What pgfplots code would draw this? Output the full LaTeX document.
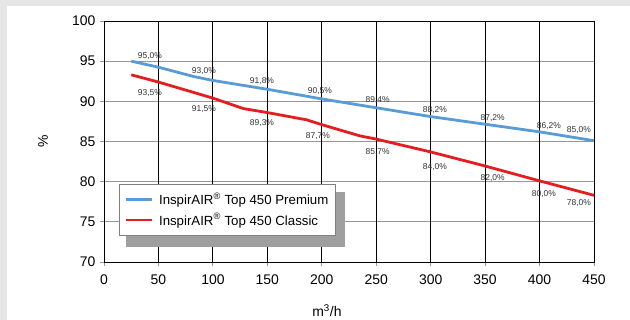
\documentclass[border=0pt]{standalone}
\usepackage{pgfplots}
\pgfplotsset{compat=1.18}
\usepackage{fontspec}
\setmainfont{Liberation Sans}
\definecolor{cblue}{RGB}{88,155,215}
\definecolor{cred}{RGB}{228,30,32}
\definecolor{bggray}{RGB}{230,230,230}
\definecolor{lbl}{RGB}{50,50,50}
\definecolor{gridgray}{RGB}{150,150,150}
\pgfplotsset{legend image code/.code={\draw[#1] (0bp,0bp) -- (26bp,0bp);}}
\tikzset{dl/.style={font=\fontsize{8.5}{10}\selectfont, text=lbl, inner sep=0pt}}
\begin{document}
\begin{tikzpicture}
\fill[bggray] (-104bp,-58bp) rectangle (-97bp,262bp);
\fill[bggray] (-104bp,256bp) rectangle (526bp,262bp);
\begin{axis}[
  scale only axis, width=490bp, height=241bp,
  xmin=0, xmax=450, ymin=70, ymax=100,
  xtick={0,50,...,450}, ytick={70,75,...,100},
  xtick pos=bottom, ytick pos=left, tick align=outside,
  major tick length=3bp,
  tick style={gray, line width=0.8pt},
  axis line style={black, line width=1pt},
  /pgf/number format/assume math mode=true,
  tick label style={font=\fontsize{14}{16}\selectfont},
  xticklabel style={yshift=-6bp},
  yticklabel style={xshift=-2bp}]
\addplot[draw=none] coordinates {(0,70)};
\end{axis}
\begin{axis}[
  scale only axis, width=490bp, height=241bp,
  xmin=0, xmax=450, ymin=70, ymax=100,
  hide axis, clip=false,
  legend cell align=left,
  legend style={at={(axis description cs:0.0306,0.3237)}, anchor=north west,
    draw=gray, fill=white, line width=0.6pt,
    font=\fontsize{13.3}{15}\selectfont,
    inner xsep=5bp, inner ysep=7bp, row sep=3bp,
    /tikz/every odd column/.append style={column sep=4bp}},
]
\pgfplotsinvokeforeach{75,80,85,90,95}{
  \draw[gridgray, line width=1.2pt] (axis cs:0,#1) -- (axis cs:450,#1);}
\pgfplotsinvokeforeach{70,75,80,85,90,95,100}{
  \draw[gridgray, line width=1pt] (axis cs:0,#1) -- ++(-3.5bp,0bp);}
\pgfplotsinvokeforeach{50,100,150,200,250,300,350,400}{
  \draw[black, line width=0.9pt] (axis cs:#1,70) -- (axis cs:#1,100);}
\pgfplotsinvokeforeach{0,50,100,150,200,250,300,350,400,450}{
  \draw[gridgray, line width=1pt] (axis cs:#1,70) -- ++(0bp,-3.5bp);}
\draw[black, line width=1pt] (axis cs:0,70) rectangle (axis cs:450,100);
\fill[gray!75] (axis cs:20.2,78.71) rectangle (axis cs:221.3,71.87);
\addplot[cblue, line width=2.8pt] coordinates {
(25,95.0)(50,94.25)(82,93.1)(100,92.6)(150,91.5)(200,90.3)(250,89.2)(300,88.1)(350,87.15)(400,86.2)(450,85.1)};
\addlegendentry{InspirAIR\textsuperscript{®} Top 450 Premium}
\addplot[cred, line width=2.8pt] coordinates {
(25,93.3)(50,92.4)(100,90.4)(128,89.1)(150,88.6)(186,87.7)(200,87.1)(235,85.7)(250,85.3)(300,83.7)(350,81.95)(400,80.1)(450,78.3)};
\addlegendentry{InspirAIR\textsuperscript{®} Top 450 Classic}
\node[dl] at (axis cs:42.2,95.68) {95,0\%};
\node[dl] at (axis cs:91.8,93.77) {93,0\%};
\node[dl] at (axis cs:145.1,92.57) {91,8\%};
\node[dl] at (axis cs:198.3,91.28) {90,5\%};
\node[dl] at (axis cs:251.3,90.16) {89,4\%};
\node[dl] at (axis cs:303.9,88.92) {88,2\%};
\node[dl] at (axis cs:356.9,87.95) {87,2\%};
\node[dl] at (axis cs:408.6,86.95) {86,2\%};
\node[dl] at (axis cs:436.2,86.43) {85,0\%};
\node[dl] at (axis cs:42.2,91.07) {93,5\%};
\node[dl] at (axis cs:91.8,89.04) {91,5\%};
\node[dl] at (axis cs:145.1,87.33) {89,3\%};
\node[dl] at (axis cs:196.5,85.68) {87,7\%};
\node[dl] at (axis cs:251.3,83.72) {85,7\%};
\node[dl] at (axis cs:303.9,81.86) {84,0\%};
\node[dl] at (axis cs:356.9,80.45) {82,0\%};
\node[dl] at (axis cs:404,78.46) {80,0\%};
\node[dl] at (axis cs:436.2,77.37) {78,0\%};
\node[font=\fontsize{14}{16}\selectfont, inner sep=0pt, anchor=base] at (axis description cs:0.455,-0.228) {m\textsuperscript{3}/h};
\node[font=\fontsize{14}{16}\selectfont, inner sep=0pt, rotate=90] at (axis description cs:-0.1245,0.5) {\%};
\end{axis}
\useasboundingbox (-104bp,-58bp) rectangle (526bp,262bp);
\end{tikzpicture}
\end{document}
